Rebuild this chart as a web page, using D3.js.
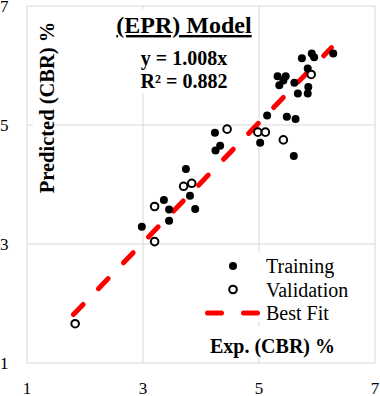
<!DOCTYPE html>
<html>
<head>
<meta charset="utf-8">
<script src="https://cdn.jsdelivr.net/npm/d3@7"></script>
<style>
  body { margin: 0; background: #fff; }
  svg text { font-family: "Times New Roman", "Liberation Serif", serif; fill: #000; }
</style>
</head>
<body>
<div id="chart"></div>
<script>
// Exp. vs Predicted CBR values
const trainExp = [2.98, 3.36, 3.45, 3.45, 3.74, 3.81, 3.90, 4.24, 4.33, 4.25, 5.02, 5.14, 5.48, 5.63, 5.60,
  5.74, 5.91, 5.95, 6.28, 5.84, 5.32, 5.46, 5.35, 5.42, 5.61, 5.67, 5.85, 5.84];
const trainPred = [3.29, 3.74, 3.58, 3.39, 4.26, 3.81, 3.59, 4.87, 4.65, 4.57, 4.70, 5.16, 5.14, 5.10, 4.48,
  6.12, 6.20, 6.14, 6.20, 5.95, 5.82, 5.82, 5.67, 5.75, 5.71, 5.53, 5.64, 5.53];
const validExp = [1.83, 3.20, 3.20, 3.70, 3.84, 4.45, 4.98, 5.11, 5.42, 5.90];
const validPred = [1.66, 3.04, 3.63, 3.97, 4.02, 4.93, 4.88, 4.88, 4.75, 5.85];
const fitSlope = 1.008;
const fitRange = [1.8, 6.25];
const ticks = [1, 3, 5, 7];
const legendLabels = ["Training", "Validation", "Best Fit"];

const width = 380, height = 396;
const svg = d3.select("#chart").append("svg")
  .attr("width", width)
  .attr("height", height);

const x = d3.scaleLinear().domain([1, 7]).range([27, 375]);
const y = d3.scaleLinear().domain([1, 7]).range([363, 6]);

// grid
svg.selectAll(".gx").data([3, 5]).enter().append("line")
  .attr("x1", d => x(d)).attr("x2", d => x(d))
  .attr("y1", y(7)).attr("y2", y(1))
  .attr("stroke", "#d9d9d9").attr("stroke-width", 1);
svg.selectAll(".gy").data([3, 5]).enter().append("line")
  .attr("x1", x(1)).attr("x2", x(7))
  .attr("y1", d => y(d)).attr("y2", d => y(d))
  .attr("stroke", "#d9d9d9").attr("stroke-width", 1);
svg.append("rect")
  .attr("x", x(1)).attr("y", y(7))
  .attr("width", x(7) - x(1)).attr("height", y(1) - y(7))
  .attr("fill", "none").attr("stroke", "#d9d9d9").attr("stroke-width", 1);

// white text boxes hiding the grid like the original
const boxes = [[108, 9, 149, 84], [33, 15, 21, 185], [200, 252, 145, 70], [205, 327, 135, 31]];
svg.selectAll(".box").data(boxes).enter().append("rect")
  .attr("x", d => d[0]).attr("y", d => d[1])
  .attr("width", d => d[2]).attr("height", d => d[3])
  .attr("fill", "#fff");

// tick labels
svg.selectAll(".ytick").data(ticks).enter().append("text")
  .attr("x", 8.5).attr("y", d => y(d))
  .attr("dy", "0.35em")
  .attr("text-anchor", "end")
  .style("font-size", "17px")
  .text(d => d);
svg.selectAll(".xtick").data(ticks).enter().append("text")
  .attr("x", d => x(d)).attr("y", 394)
  .attr("text-anchor", "middle")
  .style("font-size", "17px")
  .text(d => d);

// best fit
svg.append("line")
  .attr("x1", x(fitRange[0])).attr("y1", y(fitSlope * fitRange[0]))
  .attr("x2", x(fitRange[1])).attr("y2", y(fitSlope * fitRange[1]))
  .attr("stroke", "#ff0000").attr("stroke-width", 5)
  .attr("stroke-linecap", "round")
  .attr("stroke-dasharray", "14,22");

// points
svg.selectAll(".train").data(d3.zip(trainExp, trainPred)).enter().append("circle")
  .attr("cx", d => x(d[0])).attr("cy", d => y(d[1]))
  .attr("r", 4).attr("fill", "#000");
svg.selectAll(".valid").data(d3.zip(validExp, validPred)).enter().append("circle")
  .attr("cx", d => x(d[0])).attr("cy", d => y(d[1]))
  .attr("r", 3.8).attr("fill", "#fff")
  .attr("stroke", "#000").attr("stroke-width", 2);

// titles
svg.append("text")
  .attr("x", 184).attr("y", 33)
  .attr("text-anchor", "middle")
  .style("font-size", "24px").style("font-weight", "bold")
  .style("text-decoration", "underline")
  .text("(EPR) Model");
svg.append("text")
  .attr("x", 184).attr("y", 65)
  .attr("text-anchor", "middle")
  .style("font-size", "20px").style("font-weight", "bold")
  .text("y = 1.008x");
svg.append("text")
  .attr("x", 184).attr("y", 88)
  .attr("text-anchor", "middle")
  .style("font-size", "20px").style("font-weight", "bold")
  .text("R² = 0.882");

svg.append("text")
  .attr("transform", "translate(54,107.5) rotate(-90)")
  .attr("text-anchor", "middle")
  .style("font-size", "20.5px").style("font-weight", "bold")
  .text("Predicted (CBR) %");
svg.append("text")
  .attr("x", 272.5).attr("y", 353)
  .attr("text-anchor", "middle")
  .style("font-size", "20px").style("font-weight", "bold")
  .text("Exp. (CBR) %");

// legend
const leg = svg.append("g");
const legY = [266, 289.5, 313];
leg.append("circle").attr("cx", 233).attr("cy", legY[0]).attr("r", 4).attr("fill", "#000");
leg.append("circle").attr("cx", 233).attr("cy", legY[1]).attr("r", 3.8)
  .attr("fill", "#fff").attr("stroke", "#000").attr("stroke-width", 2);
leg.append("line")
  .attr("x1", 207.5).attr("x2", 257.5).attr("y1", legY[2]).attr("y2", legY[2])
  .attr("stroke", "#ff0000").attr("stroke-width", 5)
  .attr("stroke-linecap", "round").attr("stroke-dasharray", "14,22");
leg.selectAll("text").data(legendLabels).enter().append("text")
  .attr("x", 266).attr("y", (d, i) => legY[i] + 7)
  .style("font-size", "20px")
  .text(d => d);
</script>
</body>
</html>
